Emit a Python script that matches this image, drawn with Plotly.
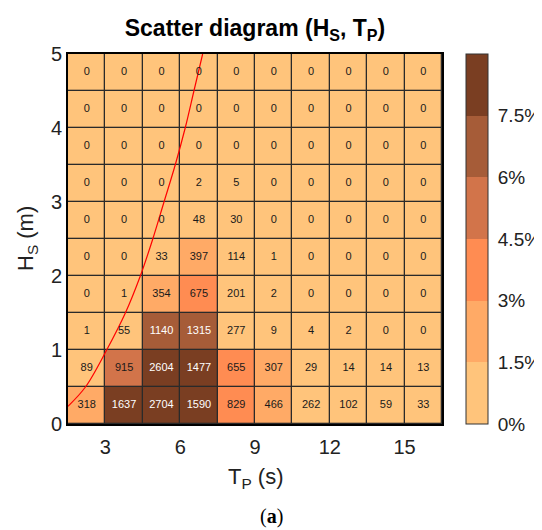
import plotly.graph_objects as go

# Bin edges
tp_edges = [1.5, 3.0, 4.5, 6.0, 7.5, 9.0, 10.5, 12.0, 13.5, 15.0, 16.5]
hs_edges = [0.0, 0.5, 1.0, 1.5, 2.0, 2.5, 3.0, 3.5, 4.0, 4.5, 5.0]

# Occurrence counts, rows from Hs 0-0.5 upward, columns Tp bins
row_00 = [318, 1637, 2704, 1590, 829, 466, 262, 102, 59, 33]
row_05 = [89, 915, 2604, 1477, 655, 307, 29, 14, 14, 13]
row_10 = [1, 55, 1140, 1315, 277, 9, 4, 2, 0, 0]
row_15 = [0, 1, 354, 675, 201, 2, 0, 0, 0, 0]
row_20 = [0, 0, 33, 397, 114, 1, 0, 0, 0, 0]
row_25 = [0, 0, 0, 48, 30, 0, 0, 0, 0, 0]
row_30 = [0, 0, 0, 2, 5, 0, 0, 0, 0, 0]
row_35 = [0, 0, 0, 0, 0, 0, 0, 0, 0, 0]
row_40 = [0, 0, 0, 0, 0, 0, 0, 0, 0, 0]
row_45 = [0, 0, 0, 0, 0, 0, 0, 0, 0, 0]
counts = [row_00, row_05, row_10, row_15, row_20, row_25, row_30, row_35, row_40, row_45]

# Steepness limit curve
curve_tp = [1.5, 2.2, 3.05, 3.8, 4.4, 4.9, 5.35, 5.8, 6.2, 6.55, 6.9]
curve_hs = [0.24, 0.5, 1.0, 1.5, 2.0, 2.5, 3.0, 3.5, 4.0, 4.5, 5.0]

cbar_ticks = [0, 1.5, 3, 4.5, 6, 7.5]
cbar_labels = ["0%", "1.5%", "3%", "4.5%", "6%", "7.5%"]
band_colors = ["#FFC47B", "#FFAA66", "#FF8C52", "#D2744A", "#A65C38", "#7A3E22"]

total = sum(sum(r) for r in counts)
pct = [[c / total * 100 for c in r] for r in counts]
xc = [(tp_edges[i] + tp_edges[i + 1]) / 2 for i in range(10)]
yc = [(hs_edges[j] + hs_edges[j + 1]) / 2 for j in range(10)]

zmax = 9.0
cs = []
for k, col in enumerate(band_colors):
    cs.append([k / 6, col])
    cs.append([(k + 1) / 6, col])

# page body has an 8px margin, so figure coords = picture coords - 8
W, H = 534, 522
L, R, T, B = 60, 434, 46, 416
PW, PH = R - L, B - T
CB0, CBW = 458, 22

fig = go.Figure()
fig.add_trace(go.Heatmap(
    x=xc, y=yc, z=pct, zmin=0, zmax=zmax, colorscale=cs,
    xgap=1.3, ygap=1.3, hoverinfo="skip",
    colorbar=dict(
        x=(CB0 - L) / PW, xanchor="left", xref="paper", y=0.5, yanchor="middle",
        len=1.0, lenmode="fraction", thickness=CBW, thicknessmode="pixels",
        xpad=0, ypad=0,
        outlinecolor="#333", outlinewidth=1,
        tickvals=cbar_ticks, ticktext=cbar_labels, ticks="outside", ticklen=6,
        tickcolor="rgba(0,0,0,0)", tickfont=dict(family="Liberation Sans", size=19, color="#222"),
    ),
))

fig.add_trace(go.Scatter(
    x=curve_tp, y=curve_hs, mode="lines", line=dict(color="red", width=1.2, shape="spline"),
    hoverinfo="skip", showlegend=False,
))

tx, ty, tt, tc = [], [], [], []
for j in range(10):
    for i in range(10):
        tx.append(xc[i]); ty.append(yc[j]); tt.append(str(counts[j][i]))
        tc.append("white" if pct[j][i] >= 6 else "#1a1a1a")
fig.add_trace(go.Scatter(
    x=tx, y=ty, text=tt, mode="text",
    textfont=dict(family="Liberation Sans", size=11, color=tc),
    hoverinfo="skip", showlegend=False,
))

shapes = []
for v in cbar_ticks[1:]:
    yy = v / zmax
    shapes.append(dict(type="line", xref="paper", yref="paper",
                       x0=(CB0 + CBW - 4 - L) / PW, x1=(CB0 + CBW - L) / PW, y0=yy, y1=yy,
                       line=dict(color="#333", width=1)))

fig.update_layout(
    width=W, height=H,
    margin=dict(l=L, r=W - R, t=T, b=H - B, autoexpand=False),
    plot_bgcolor="#2a2a2a", paper_bgcolor="white",
    showlegend=False,
    font=dict(family="Liberation Sans", color="#222"),
    title=dict(text="<b>Scatter diagram (H<sub>S</sub>, T<sub>P</sub>)</b>",
               x=0.5, xref="paper", xanchor="center",
               y=1 - 20 / H, yref="container", yanchor="middle",
               font=dict(family="Liberation Sans", size=23, color="black")),
    xaxis=dict(range=[1.5, 16.5], tickvals=[3, 6, 9, 12, 15], showgrid=False, zeroline=False,
               showline=True, linecolor="black", linewidth=2, mirror=True,
               ticks="", ticklabelstandoff=4, tickfont=dict(size=20, color="#222")),
    yaxis=dict(range=[0, 5], tickvals=[0, 1, 2, 3, 4, 5], showgrid=False, zeroline=False,
               showline=True, linecolor="black", linewidth=2, mirror=True,
               ticks="", ticklabelstandoff=0, tickfont=dict(size=20, color="#222")),
    shapes=shapes,
    annotations=[
        dict(text="T<sub>P</sub> (s)", x=0.5, y=-(470 - B) / PH, xref="paper", yref="paper",
             showarrow=False, xanchor="center", yanchor="middle",
             font=dict(family="Liberation Sans", size=22, color="#222")),
        dict(text="H<sub>S</sub> (m)", x=(19 - L) / PW, y=0.5, xref="paper", yref="paper",
             showarrow=False, xanchor="center", yanchor="middle", textangle=-90,
             font=dict(family="Liberation Sans", size=22, color="#222")),
        dict(text="(<b>a</b>)", x=(263 - L) / PW, y=-(508 - B) / PH, xref="paper", yref="paper",
             showarrow=False, xanchor="center", yanchor="middle",
             font=dict(family="Liberation Serif", size=20, color="black")),
    ],
)

fig.write_html("out.html")
